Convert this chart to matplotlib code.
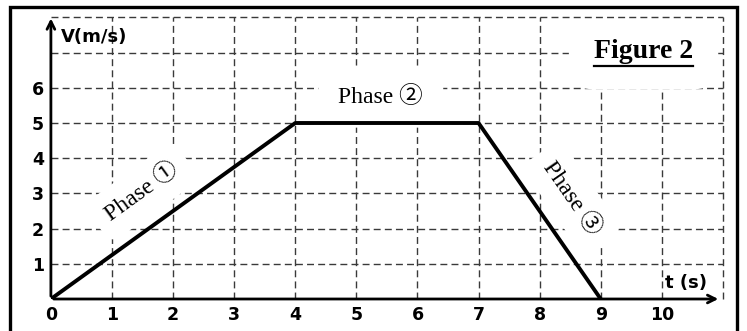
import matplotlib
matplotlib.use('Agg')
import matplotlib.pyplot as plt
from matplotlib.patches import Rectangle
from matplotlib.lines import Line2D

# speed profile
t_vals = [0, 4, 7, 9]
v_vals = [0, 5, 5, 0]

x_ticks = [0, 1, 2, 3, 4, 5, 6, 7, 8, 9, 10]
y_ticks = [1, 2, 3, 4, 5, 6]
x_grid = [1, 2, 3, 4, 5, 6, 7, 8, 9, 10, 11]
y_grid = [1, 2, 3, 4, 5, 6, 7, 8]

fig = plt.figure(figsize=(7.47, 3.31), dpi=100)
ax = fig.add_axes([50.9 / 747, 32 / 331, 672 / 747, 281.6 / 331])
ax.set_xlim(0, 11)
ax.set_ylim(0, 8)
ax.set_facecolor('none')
for s in ax.spines.values():
    s.set_visible(False)

grid_kw = dict(color='#3a3a3a', lw=1.0, ls=(0, (5, 3)), clip_on=False)
for gx in x_grid:
    ax.axvline(gx, zorder=3 if gx == 11 else 1, **grid_kw)
for gy in y_grid:
    ax.axhline(gy, zorder=3 if gy == 8 else 1, **grid_kw)

ax.set_xticks(x_ticks)
ax.set_yticks(y_ticks)
ax.tick_params(length=0, labelsize=12.5, pad=5)
for lab in ax.get_xticklabels() + ax.get_yticklabels():
    lab.set_fontweight('bold')

# axes with open arrow heads
ax.annotate('', xy=(0, 8.05), xytext=(0, 0),
            arrowprops=dict(arrowstyle='->', lw=2, color='black', mutation_scale=14),
            annotation_clip=False, zorder=5)
ax.annotate('', xy=(10.97, 0), xytext=(0, 0),
            arrowprops=dict(arrowstyle='->', lw=2, color='black', mutation_scale=14),
            annotation_clip=False, zorder=5)

ax.plot(t_vals, v_vals, color='black', lw=2.8, zorder=6, solid_capstyle='round')

ax.text(0.7, 7.45, 'V(m/s)', fontsize=13, fontweight='bold', ha='center', va='center', zorder=7)
ax.text(10.4, 0.45, 't (s)', fontsize=13, fontweight='bold', ha='center', va='center', zorder=7)

serif = ['Liberation Serif', 'DejaVu Serif', 'Noto Sans CJK SC']
box = dict(boxstyle='round,pad=0.55', fc='white', ec='none')
ax.text(1.49, 3.04, 'Phase ①', fontsize=17, family=serif, rotation=35.8,
        rotation_mode='anchor', ha='center', va='center', bbox=box, zorder=2)
ax.text(5.4, 5.75, 'Phase ②', fontsize=17, family=serif,
        ha='center', va='center', bbox=dict(boxstyle='round,pad=0.85', fc='white', ec='none'), zorder=2)
ax.text(8.53, 2.87, 'Phase ③', fontsize=17, family=serif, rotation=-55.2,
        rotation_mode='anchor', ha='center', va='center', bbox=box, zorder=2)

fig_txt = ax.text(9.7, 7.02, 'Figure 2', fontsize=20, family=serif, fontweight='bold',
                  ha='center', va='center',
                  bbox=dict(boxstyle='round,pad=0.9', fc='white', ec='none'), zorder=2)

# outer frame
fig.add_artist(Rectangle((10 / 747, -0.1), 727 / 747, 1.1 - 7 / 331, transform=fig.transFigure,
                         fill=False, lw=2.4, ec='black'))

# underline for the title
fig.canvas.draw()
bb = fig_txt.get_window_extent().transformed(fig.transFigure.inverted())
uy = bb.y0 - 2 / 331
fig.add_artist(Line2D([bb.x0, bb.x1], [uy, uy], transform=fig.transFigure, color='black', lw=1.6))

fig.savefig('out.png', dpi=100)
